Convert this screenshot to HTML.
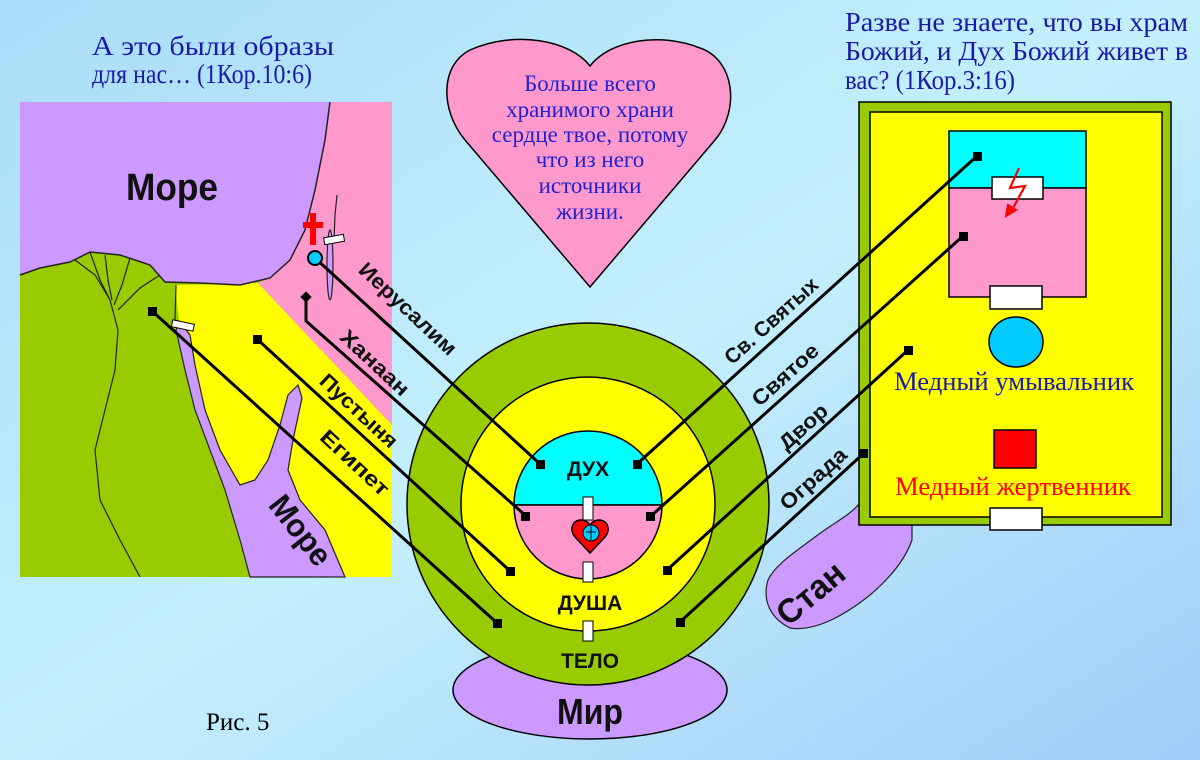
<!DOCTYPE html>
<html><head><meta charset="utf-8"><style>
html,body{margin:0;padding:0;width:1200px;height:760px;overflow:hidden}
svg{display:block}
.s{font-family:"Liberation Serif",serif}
.b{font-family:"Liberation Sans",sans-serif;font-weight:bold}
</style></head><body>
<svg width="1200" height="760" viewBox="0 0 1200 760" xmlns="http://www.w3.org/2000/svg">
<defs>
<linearGradient id="bg" x1="0" y1="0" x2="1" y2="1">
<stop offset="0" stop-color="#a9dcf8"/><stop offset="0.5" stop-color="#c4f0fc"/><stop offset="1" stop-color="#a0ccf8"/>
</linearGradient>
</defs>
<rect width="1200" height="760" fill="url(#bg)"/>

<!-- top texts -->
<g class="s" fill="#1a1aa8" font-size="27">
<text x="92" y="55" textLength="242" lengthAdjust="spacingAndGlyphs">А  это  были  образы</text>
<text x="92" y="83" textLength="220" lengthAdjust="spacingAndGlyphs">для нас… (1Кор.10:6)</text>
<text x="845" y="31" textLength="343" lengthAdjust="spacingAndGlyphs">Разве  не  знаете,  что  вы  храм</text>
<text x="845" y="60" textLength="343" lengthAdjust="spacingAndGlyphs">Божий,  и  Дух  Божий  живет  в</text>
<text x="845" y="89" textLength="170" lengthAdjust="spacingAndGlyphs">вас? (1Кор.3:16)</text>
</g>

<!-- heart -->
<path d="M590,66 C570,40 515,30 470,50 C440,65 440,110 465,140 L590,287 L715,140 C740,110 735,60 700,48 C660,32 610,40 590,66 Z" fill="#ff99cc" stroke="#000" stroke-width="1.5"/>
<g class="s" fill="#2222cc" font-size="23" text-anchor="middle">
<text x="590" y="91">Больше всего</text>
<text x="590" y="117">хранимого храни</text>
<text x="590" y="142">сердце твое, потому</text>
<text x="590" y="167">что из него</text>
<text x="590" y="193">источники</text>
<text x="590" y="219">жизни.</text>
</g>

<!-- map -->
<rect x="20" y="102" width="372" height="475" fill="#99cc00"/>
<polygon points="175,285 258,283 392,425 392,577 250,577 180,330" fill="#ffff00"/>
<polygon points="330,102 392,102 392,425 258,283 270,278 290,260 305,230 315,190 325,140" fill="#ff99cc"/>
<polygon points="20,102 330,102 325,140 315,190 305,230 290,260 270,278 240,285 200,283 165,282 150,265 120,255 90,252 70,262 40,268 20,275" fill="#cc99ff"/>
<path d="M330,102 325,140 315,190 305,230 290,260 270,278 240,285 200,283 165,282 150,265 120,255 90,252 70,262 40,268 20,275" fill="none" stroke="#222" stroke-width="1.5"/>
<polygon points="180,322 190,335 195,365 205,410 220,450 240,485 255,480 268,460 280,425 288,395 298,385 302,398 293,440 288,470 300,500 325,530 345,577 250,577 240,540 225,490 210,450 195,410 185,370 176,330" fill="#cc99ff" stroke="#222" stroke-width="1.2"/>
<g fill="none" stroke="#222" stroke-width="1.2">
<path d="M90,252 100,280 110,300 118,330 115,370 105,410 95,450 100,500 120,540 140,577"/>
<path d="M75,260 95,275 110,300"/>
<path d="M105,255 108,280 112,300"/>
<path d="M130,258 122,285 114,305"/>
<path d="M160,275 140,288 118,310"/>
<path d="M176,285 175,320"/>
</g>
<ellipse cx="330" cy="265" rx="3" ry="35" fill="#cc99ff" stroke="#222" stroke-width="1.2"/>
<path d="M337,195 335,215 334,240" stroke="#222" stroke-width="1.2" fill="none"/>
<text x="172" y="200" class="b" font-size="38" text-anchor="middle" fill="#111" textLength="92" lengthAdjust="spacingAndGlyphs">Море</text>
<text class="b" font-size="32" fill="#111" text-anchor="middle" transform="translate(292,537) rotate(52)" textLength="80" lengthAdjust="spacingAndGlyphs">Море</text>
<rect x="310" y="213" width="6" height="32" fill="#ff0000"/>
<rect x="303" y="222" width="20" height="6" fill="#ff0000"/>
<rect x="324" y="236" width="20" height="7" fill="#fff" stroke="#000" stroke-width="1" transform="rotate(-10 334 239)"/>
<rect x="172" y="322" width="22" height="7" fill="#fff" stroke="#000" stroke-width="1" transform="rotate(12 183 325)"/>

<!-- Стан blob -->
<path d="M858,505 C850,515 835,522 815,537 C795,552 775,565 768,580 C762,600 770,618 790,628 C815,632 845,615 870,595 C890,578 905,560 912,540 L912,520 Z" fill="#cc99ff" stroke="#222" stroke-width="1.2"/>
<text class="b" font-size="34" fill="#111" text-anchor="middle" transform="translate(818,602) rotate(-40)" textLength="78" lengthAdjust="spacingAndGlyphs">Стан</text>

<!-- temple -->
<rect x="859" y="102" width="312" height="423" fill="#99cc00" stroke="#000" stroke-width="1.5"/>
<rect x="870" y="112" width="292" height="405" fill="#ffff00" stroke="#000" stroke-width="1.5"/>
<rect x="949" y="131" width="137" height="57" fill="#00ffff" stroke="#000" stroke-width="1.5"/>
<rect x="949" y="188" width="137" height="109" fill="#ff99cc" stroke="#000" stroke-width="1.5"/>
<rect x="992" y="177" width="51" height="22" fill="#fff" stroke="#000" stroke-width="1.5"/>
<rect x="990" y="286" width="52" height="23" fill="#fff" stroke="#000" stroke-width="1.5"/>
<path d="M1019,168 1010,188 1025,186 1012,210" stroke="#ff0000" stroke-width="2.2" fill="none"/>
<path d="M1006,216 1008,205 1016,210 Z" fill="#ff0000" stroke="#ff0000" stroke-width="2"/>
<ellipse cx="1016" cy="342" rx="27" ry="25" fill="#00ccff" stroke="#000" stroke-width="1.5"/>
<text x="1014" y="390" class="s" font-size="26" text-anchor="middle" fill="#1a1aa8" textLength="240" lengthAdjust="spacingAndGlyphs">Медный умывальник</text>
<rect x="994" y="430" width="42" height="38" fill="#ff0000" stroke="#000" stroke-width="1.5"/>
<text x="1013" y="495" class="s" font-size="26" text-anchor="middle" fill="#ff0000" textLength="236" lengthAdjust="spacingAndGlyphs">Медный жертвенник</text>
<rect x="990" y="508" width="52" height="22" fill="#fff" stroke="#000" stroke-width="1.5"/>

<!-- Mir -->
<ellipse cx="590" cy="690" rx="137" ry="49" fill="#cc99ff" stroke="#000" stroke-width="1.5"/>
<!-- circles -->
<circle cx="588" cy="504" r="181" fill="#99cc00" stroke="#000" stroke-width="1.5"/>
<circle cx="588" cy="504" r="127" fill="#ffff00" stroke="#000" stroke-width="1.5"/>
<path d="M514,505 A74,74 0 0 1 662,505 Z" fill="#00ffff" stroke="#000" stroke-width="1.5"/>
<path d="M514,505 A74,74 0 0 0 662,505 Z" fill="#ff99cc" stroke="#000" stroke-width="1.5"/>
<rect x="583" y="497" width="10" height="23" fill="#fff" stroke="#000" stroke-width="1"/>
<rect x="583" y="562" width="10" height="20" fill="#fff" stroke="#000" stroke-width="1"/>
<rect x="583" y="621" width="10" height="20" fill="#fff" stroke="#000" stroke-width="1"/>
<path d="M590,553 L575,537 C569,530 572,520 581,520 C586,520 589,523 590,526 C591,523 594,520 599,520 C608,520 611,530 605,537 Z" fill="#ff0000" stroke="#000" stroke-width="1.5"/>
<circle cx="591" cy="533" r="8" fill="#00ccff" stroke="#000" stroke-width="1"/>
<path d="M591,526 V540 M586,532 H596" stroke="#000" stroke-width="1"/>
<g class="b" fill="#111" text-anchor="middle">
<text x="588" y="476" font-size="21">ДУХ</text>
<text x="590" y="610" font-size="21">ДУША</text>
<text x="590" y="668" font-size="21">ТЕЛО</text>
<text x="590" y="724" font-size="36" textLength="66" lengthAdjust="spacingAndGlyphs">Мир</text>
</g>

<!-- connector lines -->
<g stroke="#000" stroke-width="3" fill="none">
<path d="M315,258 540,464"/>
<path d="M306,297 306,321 526,516"/>
<path d="M257,339 510,571"/>
<path d="M152,311 497,623"/>
<path d="M977,156 637,464"/>
<path d="M963,236 651,516"/>
<path d="M908,350 667,570"/>
<path d="M864,453 680,622"/>
</g>
<g fill="#000">
<rect x="536" y="460" width="9" height="9"/>
<rect x="521" y="512" width="9" height="9"/>
<rect x="506" y="567" width="9" height="9"/>
<rect x="493" y="619" width="9" height="9"/>
<rect x="633" y="460" width="9" height="9"/>
<rect x="646" y="512" width="9" height="9"/>
<rect x="663" y="566" width="9" height="9"/>
<rect x="676" y="618" width="9" height="9"/>
<rect x="973" y="152" width="9" height="9"/>
<rect x="959" y="232" width="9" height="9"/>
<rect x="904" y="346" width="9" height="9"/>
<rect x="859" y="449" width="9" height="9"/>
<rect x="148" y="307" width="9" height="9"/>
<rect x="253" y="335" width="9" height="9"/>
<rect x="302" y="293" width="8" height="8" transform="rotate(45 306 297)"/>
</g>
<circle cx="315" cy="258" r="7" fill="#00ccff" stroke="#000" stroke-width="2"/>

<!-- line labels -->
<g class="b" font-size="21" fill="#111" text-anchor="middle">
<text transform="translate(403,314) rotate(43)" textLength="125" lengthAdjust="spacingAndGlyphs">Иерусалим</text>
<text transform="translate(370,368) rotate(43)" textLength="86" lengthAdjust="spacingAndGlyphs">Ханаан</text>
<text transform="translate(354,416) rotate(43)" textLength="98" lengthAdjust="spacingAndGlyphs">Пустыня</text>
<text transform="translate(350,468) rotate(43)" textLength="86" lengthAdjust="spacingAndGlyphs">Египет</text>
<text transform="translate(776,326) rotate(-42)" textLength="118" lengthAdjust="spacingAndGlyphs">Св. Святых</text>
<text transform="translate(790,380) rotate(-42)" textLength="82" lengthAdjust="spacingAndGlyphs">Святое</text>
<text transform="translate(808,432) rotate(-42)" textLength="58" lengthAdjust="spacingAndGlyphs">Двор</text>
<text transform="translate(818,484) rotate(-42)" textLength="82" lengthAdjust="spacingAndGlyphs">Ограда</text>
</g>

<text x="206" y="730" class="s" font-size="25" fill="#000">Рис. 5</text>
</svg>
</body></html>
